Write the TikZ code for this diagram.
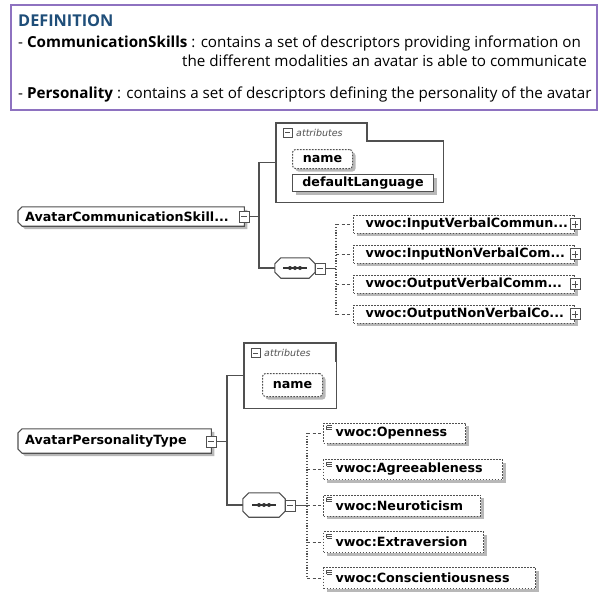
\documentclass[tikz,border=0pt]{standalone}
\usepackage{fontspec}
\newfontfamily\hdr{Open Sans}
\newfontfamily\dia{DejaVu Sans}
\usetikzlibrary{shadows,backgrounds}
\definecolor{frame}{HTML}{8E72C0}
\definecolor{defblue}{HTML}{1F4E79}
\definecolor{ln}{HTML}{505050}
\definecolor{shd}{HTML}{B8B8B8}
\newcommand{\ctshape}[1]{%
 \begin{scope}[on background layer]
 \fill[shd] ([shift={(7pt,-3pt)}]#1.north west) -- ([shift={(3pt,-3pt)}]#1.north east) -- ([shift={(3pt,-3pt)}]#1.south east) -- ([shift={(7pt,-3pt)}]#1.south west) -- ([shift={(3pt,1pt)}]#1.south west) -- ([shift={(3pt,-7pt)}]#1.north west) -- cycle;
 \filldraw[fill=white, lnst] ([xshift=4pt]#1.north west) -- (#1.north east) -- (#1.south east) -- ([xshift=4pt]#1.south west) -- ([yshift=4pt]#1.south west) -- ([yshift=-4pt]#1.north west) -- cycle;
 \end{scope}}
\newcommand{\seqshape}[1]{%
 \begin{scope}[on background layer]
 \fill[shd,shift={(3pt,-3pt)}] ([xshift=6pt]#1.north west) -- ([xshift=-6pt]#1.north east) -- ([yshift=-6pt]#1.north east) -- ([yshift=6pt]#1.south east) -- ([xshift=-6pt]#1.south east) -- ([xshift=6pt]#1.south west) -- ([yshift=6pt]#1.south west) -- ([yshift=-6pt]#1.north west) -- cycle;
 \filldraw[fill=white, lnst] ([xshift=6pt]#1.north west) -- ([xshift=-6pt]#1.north east) -- ([yshift=-6pt]#1.north east) -- ([yshift=6pt]#1.south east) -- ([xshift=-6pt]#1.south east) -- ([xshift=6pt]#1.south west) -- ([yshift=6pt]#1.south west) -- ([yshift=-6pt]#1.north west) -- cycle;
 \end{scope}
 \draw[draw=black!80, line width=1.1pt] ([xshift=-12pt]#1.center) -- ([xshift=12pt]#1.center);
 \fill[black!80] ([xshift=-5pt]#1.center) circle (2pt) (#1.center) circle (2pt) ([xshift=5pt]#1.center) circle (2pt);}
\newcommand{\attabshape}[2]{% name, tab width
 \draw[lnst] (#1.north west) -- ++(#2,0) -- ++(0,18) -- ([yshift=-18pt]#1.north east) -- (#1.south east) -- (#1.south west) -- cycle;}
\begin{document}
\begin{tikzpicture}[x=1pt,y=-1pt,
  lnst/.style={draw=ln, line width=1.1pt},
  shad/.style={drop shadow={shadow xshift=3pt, shadow yshift=-3pt, fill=shd, opacity=1}},
  hdrtxt/.style={inner sep=0pt, font=\hdr\fontsize{15.2}{16}\selectfont, text=black},
  diafont/.style={font=\dia\bfseries\fontsize{12.7}{14}\selectfont},
  ctbox/.style={draw=none, inner xsep=7pt, inner ysep=0pt, diafont, align=left, anchor=west},
  elem/.style={draw=ln, fill=white, line width=1pt, dash pattern=on 1.6pt off 1.4pt, shad, diafont, inner xsep=12pt, inner ysep=0pt, align=left, anchor=west},
  selem/.style={elem, path picture={\draw[ln, line width=0.6pt, solid]
      ([shift={(3pt,-2.5pt)}]path picture bounding box.north west) -- ++(5pt,0)
      ([shift={(3pt,-4.5pt)}]path picture bounding box.north west) -- ++(5pt,0)
      ([shift={(3pt,-6.5pt)}]path picture bounding box.north west) -- ++(5pt,0)
      ([shift={(3pt,-2.5pt)}]path picture bounding box.north west) -- ++(0,4);}},
  attname/.style={draw=ln, fill=white, line width=1pt, shad, diafont, inner sep=0pt, anchor=north west},
  iconbox/.style={draw=ln, fill=white, line width=0.8pt, minimum width=10pt, minimum height=11pt, inner sep=0pt},
  minusbox/.style={iconbox, path picture={\draw[ln,line width=0.8pt] ([xshift=2pt]path picture bounding box.west) -- ([xshift=-2pt]path picture bounding box.east);}},
  plusbox/.style={iconbox, path picture={\draw[ln,line width=0.8pt] ([xshift=2pt]path picture bounding box.west) -- ([xshift=-2pt]path picture bounding box.east) ([yshift=2pt]path picture bounding box.south) -- ([yshift=-2pt]path picture bounding box.north);}},
  attlabel/.style={inner sep=0pt, anchor=west, font=\dia\itshape\fontsize{9.5}{10}\selectfont, text=ln},
  seqnode/.style={draw=none, inner sep=0pt},
  dotl/.style={draw=ln, line width=1.1pt, dash pattern=on 1.2pt off 1.6pt},
  dashl/.style={draw=ln, line width=1pt, dash pattern=on 3pt off 2.5pt}
]
\useasboundingbox (0,0) rectangle (602,592);

% ---------------- definition box
\node[draw=frame, line width=1.6pt, minimum width=586pt, minimum height=105pt, inner sep=0pt] (defbox) at (304,57.5) {};
\node[anchor=base west, inner sep=0pt, font=\hdr\bfseries\fontsize{16.3}{17}\selectfont, text=defblue] (deft) at (18,26) {DEFINITION};
\node[anchor=base west, hdrtxt] (l1) at (18,47) {- \textbf{CommunicationSkills} : contains a set of descriptors providing information on};
\node[anchor=base east, hdrtxt] (l2) at (587,66) {the different modalities an avatar is able to communicate};
\node[anchor=base west, hdrtxt] (l3) at (18,98) {- \textbf{Personality} : contains a set of descriptors defining the personality of the avatar};

% ---------------- upper: communication skills
\node[ctbox, text width=212pt, minimum height=19pt] (ct1) at (18,216.5) {AvatarCommunicationSkill...};
\ctshape{ct1}
\node[minusbox] (m1) at (244,216.5) {};
\coordinate (j1) at (259,216.5);

\node[draw=none, minimum width=167pt, minimum height=79pt, inner sep=0pt, anchor=north west] (at1) at (276,123) {};
\attabshape{at1}{91}
\node[iconbox, minimum width=9pt, minimum height=9pt, path picture={\draw[ln,line width=0.8pt] ([xshift=2pt]path picture bounding box.west) -- ([xshift=-2pt]path picture bounding box.east);}] (am1) at (287.5,132.5) {};
\node[attlabel] (al1) at (296,132.5) {attributes};
\node[attname, dash pattern=on 1.6pt off 1.4pt, rounded corners=3pt, minimum width=60pt, minimum height=19pt] (an1) at (292,149) {name};
\node[attname, minimum width=141pt, minimum height=17pt] (dl1) at (292,174) {defaultLanguage};

\node[seqnode, minimum width=40pt, minimum height=20pt] (s1) at (295,268) {};
\seqshape{s1}
\node[minusbox] (sm1) at (320,268.5) {};
\coordinate (k1) at (336,268.5);

\node[elem, text width=197pt, minimum height=18pt] (e1) at (353,224) {vwoc:InputVerbalCommun...};
\node[elem, text width=197pt, minimum height=18pt] (e2) at (353,254) {vwoc:InputNonVerbalCom...};
\node[elem, text width=197pt, minimum height=18pt] (e3) at (353,284) {vwoc:OutputVerbalComm...};
\node[elem, text width=197pt, minimum height=18pt] (e4) at (353,314) {vwoc:OutputNonVerbalCo...};
\node[plusbox] (p1) at (e1.east) {};
\node[plusbox] (p2) at (e2.east) {};
\node[plusbox] (p3) at (e3.east) {};
\node[plusbox] (p4) at (e4.east) {};

\draw[lnst] (m1.east) -- (j1);
\draw[lnst] (j1) |- (at1.west);
\draw[lnst] (j1) |- (s1.west);
\draw[lnst] (sm1.east) -- (k1);
\draw[dotl] (k1 |- e1.west) -- (k1 |- e4.west);
\foreach \e in {e1,e2,e3,e4} \draw[dashl] (k1 |- \e.west) -- (\e.west);

% ---------------- lower: personality
\node[ctbox, text width=179pt, minimum height=24pt] (ct2) at (18,441) {AvatarPersonalityType};
\ctshape{ct2}
\node[minusbox] (m2) at (211,441.5) {};
\coordinate (j2) at (227,441.5);

\node[draw=none, minimum width=92pt, minimum height=65pt, inner sep=0pt, anchor=north west] (at2) at (244,343) {};
\attabshape{at2}{92}
\node[iconbox, minimum width=9pt, minimum height=9pt, path picture={\draw[ln,line width=0.8pt] ([xshift=2pt]path picture bounding box.west) -- ([xshift=-2pt]path picture bounding box.east);}] (am2) at (255.5,353) {};
\node[attlabel] (al2) at (264,353) {attributes};
\node[attname, dash pattern=on 1.6pt off 1.4pt, rounded corners=3pt, minimum width=60pt, minimum height=23pt] (an2) at (262,373) {name};

\node[seqnode, minimum width=42pt, minimum height=24pt] (s2) at (264,505) {};
\seqshape{s2}
\node[minusbox] (sm2) at (290,505.5) {};
\coordinate (k2) at (307,505.5);

\node[selem, text width=118pt, minimum height=20pt] (f1) at (323,433) {vwoc:Openness};
\node[selem, text width=155pt, minimum height=20pt] (f2) at (323,469.5) {vwoc:Agreeableness};
\node[selem, text width=133pt, minimum height=21pt] (f3) at (323,505.5) {vwoc:Neuroticism};
\node[selem, text width=136pt, minimum height=21pt] (f4) at (323,542) {vwoc:Extraversion};
\node[selem, text width=188pt, minimum height=21pt] (f5) at (323,578) {vwoc:Conscientiousness};

\draw[lnst] (m2.east) -- (j2);
\draw[lnst] (j2) |- (at2.west);
\draw[lnst] (j2) |- (s2.west);
\draw[lnst] (sm2.east) -- (k2);
\draw[dotl] (k2 |- f1.west) -- (k2 |- f5.west);
\foreach \e in {f1,f2,f3,f4,f5} \draw[dashl] (k2 |- \e.west) -- (\e.west);
\end{tikzpicture}
\end{document}
